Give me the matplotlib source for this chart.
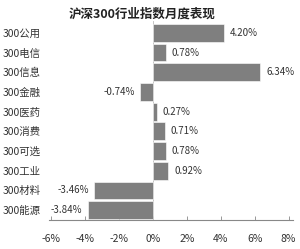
import matplotlib
matplotlib.use("Agg")
import matplotlib.pyplot as plt

plt.rcParams['font.family'] = ['Noto Sans CJK SC', 'DejaVu Sans']

# data
categories = ["300公用", "300电信", "300信息", "300金融", "300医药",
              "300消费", "300可选", "300工业", "300材料", "300能源"]
values = [4.20, 0.78, 6.34, -0.74, 0.27, 0.71, 0.78, 0.92, -3.46, -3.84]
xticks = [-6, -4, -2, 0, 2, 4, 6, 8]
title = "沪深300行业指数月度表现"

bar_color = "#7f7f7f"
text_color = "#333333"

fig = plt.figure(figsize=(3.0, 2.49), dpi=100)
ax = fig.add_axes([0.1643, 0.1165, 0.812, 0.799])

pos = list(range(len(categories)))
ax.barh(pos, values, height=0.9, color=bar_color, edgecolor="white", linewidth=0.4, zorder=2)
ax.axvline(0, color="#bbbbbb", linewidth=0.6, zorder=1)

for y, v in zip(pos, values):
    label = f"{v:.2f}%"
    if v >= 0:
        ax.annotate(label, (v, y), xytext=(4, 0), textcoords="offset points",
                    ha="left", va="center", fontsize=7, color=text_color)
    else:
        ax.annotate(label, (v, y), xytext=(-4, 0), textcoords="offset points",
                    ha="right", va="center", fontsize=7, color=text_color)

ax.set_xlim(-6.1, 8.25)
ax.set_ylim(9.5, -0.6)
ax.set_xticks(xticks)
ax.set_xticklabels([f"{t}%" for t in xticks])

ax.set_yticks(pos)
ax.set_yticklabels(categories)
for lbl in ax.get_yticklabels():
    lbl.set_horizontalalignment("left")
ax.tick_params(axis="y", length=0, pad=33.5, labelsize=7.5, labelcolor=text_color)
ax.tick_params(axis="x", direction="in", length=3, width=0.6, color="#888888",
               pad=10, labelsize=7.5, labelcolor=text_color)

for side in ["top", "right", "left"]:
    ax.spines[side].set_visible(False)
ax.spines["bottom"].set_color("#888888")
ax.spines["bottom"].set_linewidth(0.8)

fig.text(0.473, 0.944, title, ha="center", va="center", fontsize=9,
         fontweight="semibold", color="#222222")

fig.savefig("out.png", dpi=100)
